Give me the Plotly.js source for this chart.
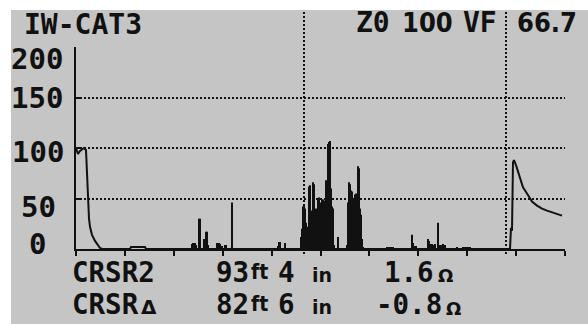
<!DOCTYPE html>
<html><head><meta charset="utf-8">
<script src="https://cdn.plot.ly/plotly-3.0.1.min.js"></script>
<style>html,body{margin:0;padding:0;background:#fff;}#chart{width:588px;height:324px;}</style>
</head><body><div id="chart"></div>
<script>
// ---- data (x = sample index across the screen, y = reflection level) ----
const traceX = [0, 2, 4, 8, 10, 11, 12, 13, 14, 16, 19, 22, 24, 26, 54, 55, 69, 70, 434, 435, 436, 437, 438, 440, 444, 447, 451, 456, 461, 466, 471, 477, 486];
const traceY = [100, 94, 97, 100, 98, 70, 50, 30, 22, 14, 8, 4, 1, 0, 0, 2, 2, 0, 0, 21, 18, 86, 88, 83, 71, 61, 55, 47, 43, 40, 38, 36, 33];

const spikeX = [116, 117, 118, 119, 120, 123, 124, 128, 130, 131, 132, 141, 142, 143, 144, 146, 149, 150, 156,
  202, 203, 204, 209,
  225, 226, 227, 228, 229, 230, 231, 232, 233, 234, 235, 236, 237, 238, 239, 240, 241, 242, 243, 244, 245, 246, 247, 248, 249, 250, 251, 252, 253, 254, 255, 256, 257, 258,
  262,
  271, 272, 273, 274, 275, 276, 277, 278, 279, 280, 281, 282, 283, 284, 285, 286, 287,
  311, 312, 313, 314, 315, 316, 317,
  336, 337, 339, 340, 352, 353, 354, 356, 358, 359, 362, 363, 365, 367, 369, 381,
  387, 388, 389, 390, 391, 392, 393, 394];
const spikeY = [5, 6, 6, 6, 4, 30, 30, 10, 17, 17, 4, 6, 6, 6, 5, 3, 4, 4, 46,
  3, 7, 7, 6,
  12, 20, 42, 44, 40, 26, 22, 14, 62, 63, 38, 34, 66, 64, 30, 40, 38, 50, 51, 46, 18, 49, 49, 48, 46, 68, 58, 104, 106, 107, 60, 42, 40, 4,
  12,
  4, 46, 66, 64, 58, 57, 50, 20, 54, 55, 52, 82, 80, 40, 34, 10, 2,
  2, 2, 2, 2, 2, 2, 2,
  14, 6, 3, 3, 10, 8, 5, 5, 4, 5, 26, 4, 4, 5, 4, 2,
  2, 2, 2, 2, 2, 2, 2, 2];

const cursorX = [228, 430];
const xTickVals = [0, 48.9, 97.8, 146.7, 195.6, 244.5, 293.4, 342.3, 391.2, 440.1, 489];
const yTickVals = [200, 150, 100, 50, 0];
const yTickText = ['200', '150', '100', '50', '0'];
const headerLeft = 'IW-CAT3';
const headerRight = ['Z0', '100', 'VF', '66.7'];
const row1 = ['CRSR2', '93', 'ft', '4', 'in', '1.6', 'Ω'];
const row2 = ['CRSR', 'Δ', '82', 'ft', '6', 'in', '-0.8', 'Ω'];

// ---- layout / styling ----
const L = 76, T = 47, PW = 489, PH = 202, W = 588, H = 324;
const px2x = p => (p - L) / PW;
const py2y = p => (T + PH - p) / PH;
const INK = '#111111', BG = '#c5c5c5';
const MONO = 'DejaVu Sans Mono';
const lab = {family: MONO, size: 29, color: INK, weight: 700};
const head = {family: MONO, size: 28, color: INK, weight: 700};
const headN = {family: 'DejaVu Sans Condensed', size: 27, color: INK, weight: 700};
const rowF = {family: MONO, size: 27.5, color: INK, weight: 700};
const smallF = s => ({family: 'DejaVu Sans', size: s, color: INK, weight: 700});

const annotations = [];
function txt(text, leftPx, centerPy, font) {
  annotations.push({text: text, xref: 'paper', yref: 'paper', x: px2x(leftPx), y: py2y(centerPy),
    xanchor: 'left', yanchor: 'middle', showarrow: false, font: font, borderpad: 0});
}
// y labels
const yLabLeft = [10, 10, 11, 20, 28];
const yLabCenter = [59, 98, 152, 207, 244];
yTickText.forEach((t, i) => txt(t, yLabLeft[i], yLabCenter[i], lab));
// header
txt(headerLeft, 23, 25, head);
const hdrLeft = [355, 401, 462, 516];
headerRight.forEach((t, i) => txt(t, hdrLeft[i], 23, i === 1 || i === 3 ? headN : head));
// bottom rows
const r1Left = [71, 215, 250, 277, 311, 383, 437];
const r1Kind = ['b', 'b', 'ft', 'b', 'in', 'b', 'om'];
const r2Left = [71, 140, 215, 250, 277, 311, 375, 445];
const r2Kind = ['b', 'tri', 'b', 'ft', 'b', 'in', 'b', 'om'];
function row(tokens, lefts, kinds, cy) {
  tokens.forEach((t, i) => {
    const k = kinds[i];
    if (k === 'b') txt(t, lefts[i], cy, rowF);
    else if (k === 'ft') txt(t, lefts[i], cy, {family: 'DejaVu Sans Condensed', size: 21, color: INK, weight: 700});
    else if (k === 'in') txt(t, lefts[i], cy + 3, smallF(19));
    else if (k === 'om') txt(t, lefts[i], cy + 4, smallF(18));
    else txt(t, lefts[i], cy + 3, smallF(20));
  });
}
row(row1, r1Left, r1Kind, 271.5);
row(row2, r2Left, r2Kind, 304);

const shapes = [
  {type: 'rect', xref: 'paper', yref: 'paper', x0: px2x(11), x1: px2x(600), y0: py2y(330), y1: py2y(10),
   fillcolor: BG, line: {width: 0}, layer: 'below'}
];
cursorX.forEach(c => shapes.push({type: 'line', xref: 'x', yref: 'paper', x0: c, x1: c,
  y0: py2y(254), y1: py2y(10), line: {color: INK, width: 2, dash: '2px,2px'}, layer: 'above'}));

const data = [
  {type: 'scatter', mode: 'lines', x: traceX, y: traceY, line: {color: INK, width: 2}, hoverinfo: 'skip', cliponaxis: false},
  {type: 'bar', x: spikeX, y: spikeY, width: 2, opacity: 1, marker: {color: INK, opacity: 1, line: {width: 0}}, hoverinfo: 'skip'}
];

const layout = {
  width: W, height: H,
  margin: {l: L, r: W - L - PW, t: T, b: H - T - PH, pad: 0},
  paper_bgcolor: '#ffffff', plot_bgcolor: 'rgba(0,0,0,0)',
  showlegend: false, barmode: 'group',
  xaxis: {range: [0, 489], tickvals: xTickVals, showticklabels: false, ticks: 'outside', ticklen: 5,
    tickwidth: 2, tickcolor: INK, showline: true, linecolor: INK, linewidth: 2, showgrid: false, zeroline: false, fixedrange: true},
  yaxis: {range: [0, 200], tickvals: yTickVals, showticklabels: false, ticks: 'inside', ticklen: 4, tickwidth: 2,
    tickcolor: INK, showline: true, linecolor: INK, linewidth: 2, showgrid: true, gridcolor: INK, gridwidth: 2,
    griddash: '2px,2px', zeroline: false, fixedrange: true},
  shapes: shapes,
  annotations: annotations
};
Plotly.newPlot('chart', data, layout, {staticPlot: true, displayModeBar: false});
</script></body></html>
